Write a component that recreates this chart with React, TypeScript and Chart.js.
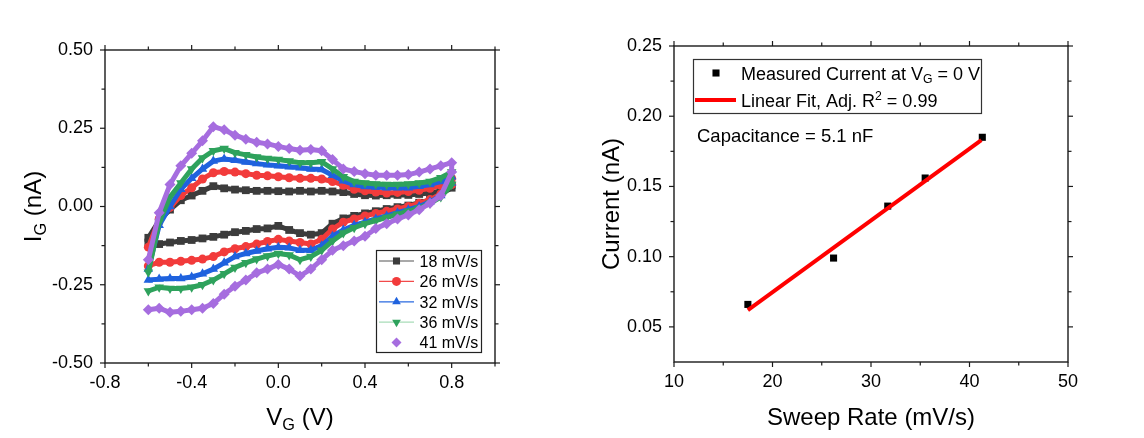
import React, { useEffect, useRef } from 'react';
import { Chart, registerables } from 'chart.js';

Chart.register(...registerables);

// ---------- Left panel data (cyclic voltammetry) ----------
const sweepVoltage = [
  -0.6, -0.55, -0.5, -0.45, -0.4, -0.35, -0.3, -0.25, -0.2, -0.15, -0.1, -0.05, 0.0, 0.05, 0.1,
  0.15, 0.2, 0.25, 0.3, 0.35, 0.4, 0.45, 0.5, 0.55, 0.6, 0.65, 0.7, 0.75, 0.8,
];
const reverseVoltage = sweepVoltage.slice().reverse();

// forward sweep (-0.6 -> 0.8)
const rate18Forward = [-0.1, -0.045, -0.01, 0.02, 0.035, 0.05, 0.065, 0.058, 0.054, 0.052, 0.05, 0.05, 0.049, 0.048, 0.05, 0.048, 0.05, 0.048, 0.046, 0.04, 0.036, 0.035, 0.036, 0.037, 0.037, 0.04, 0.043, 0.05, 0.068];
const rate26Forward = [-0.13, -0.04, -0.003, 0.035, 0.06, 0.088, 0.108, 0.112, 0.11, 0.105, 0.1, 0.098, 0.095, 0.092, 0.09, 0.09, 0.088, 0.08, 0.068, 0.055, 0.05, 0.046, 0.043, 0.045, 0.048, 0.052, 0.058, 0.068, 0.09];
const rate32Forward = [-0.2, -0.06, 0.0, 0.055, 0.09, 0.12, 0.145, 0.152, 0.148, 0.142, 0.137, 0.133, 0.13, 0.127, 0.124, 0.12, 0.118, 0.1, 0.082, 0.07, 0.064, 0.062, 0.06, 0.06, 0.06, 0.065, 0.07, 0.08, 0.095];
const rate36Forward = [-0.21, -0.05, 0.03, 0.075, 0.12, 0.155, 0.178, 0.185, 0.172, 0.165, 0.158, 0.153, 0.15, 0.145, 0.14, 0.14, 0.143, 0.12, 0.095, 0.08, 0.075, 0.072, 0.07, 0.07, 0.072, 0.075, 0.08, 0.092, 0.11];
const rate41Forward = [-0.17, -0.02, 0.07, 0.13, 0.17, 0.21, 0.255, 0.245, 0.228, 0.215, 0.205, 0.2, 0.192, 0.185, 0.18, 0.182, 0.178, 0.15, 0.12, 0.112, 0.105, 0.1, 0.1, 0.1, 0.102, 0.11, 0.12, 0.13, 0.14];

// reverse sweep (0.8 -> -0.6)
const rate18Reverse = [0.06, 0.04, 0.02, 0.012, 0.003, -0.002, -0.008, -0.015, -0.022, -0.03, -0.038, -0.055, -0.085, -0.09, -0.085, -0.075, -0.062, -0.07, -0.072, -0.078, -0.082, -0.09, -0.097, -0.102, -0.107, -0.11, -0.115, -0.12, -0.115];
const rate26Reverse = [0.07, 0.04, 0.022, 0.01, 0.0, -0.008, -0.015, -0.022, -0.03, -0.04, -0.05, -0.072, -0.105, -0.12, -0.115, -0.11, -0.105, -0.112, -0.12, -0.128, -0.135, -0.145, -0.16, -0.168, -0.172, -0.175, -0.178, -0.178, -0.19];
const rate32Reverse = [0.075, 0.035, 0.015, 0.0, -0.01, -0.02, -0.03, -0.04, -0.05, -0.06, -0.075, -0.095, -0.125, -0.14, -0.14, -0.132, -0.13, -0.135, -0.142, -0.15, -0.16, -0.18, -0.2, -0.215, -0.225, -0.23, -0.23, -0.232, -0.235];
const rate36Reverse = [0.07, 0.03, 0.01, -0.005, -0.015, -0.025, -0.035, -0.045, -0.055, -0.068, -0.085, -0.11, -0.14, -0.16, -0.17, -0.155, -0.15, -0.158, -0.168, -0.18, -0.195, -0.215, -0.235, -0.25, -0.258, -0.262, -0.262, -0.258, -0.27];
const rate41Reverse = [0.11, 0.035, 0.01, -0.01, -0.027, -0.04, -0.055, -0.07, -0.095, -0.11, -0.125, -0.14, -0.17, -0.2, -0.222, -0.2, -0.185, -0.2, -0.212, -0.235, -0.255, -0.28, -0.31, -0.325, -0.33, -0.335, -0.338, -0.325, -0.33];

const cvLabels = ['18 mV/s', '26 mV/s', '32 mV/s', '36 mV/s', '41 mV/s'];
const vgTicks = [-0.8, -0.4, 0.0, 0.4, 0.8];
const vgMinorTicks = [-0.6, -0.2, 0.2, 0.6, 1.0];
const igTicks = [-0.5, -0.25, 0.0, 0.25, 0.5];
const igMinorTicks = [-0.375, -0.125, 0.125, 0.375];

// ---------- Right panel data ----------
const sweepRates = [17.5, 26.2, 31.7, 35.5, 41.3];
const measuredCurrents = [0.066, 0.099, 0.136, 0.156, 0.185];
const fitRates = [17.5, 41.2];
const fitCurrents = [0.062, 0.183];
const rateTicks = [10, 20, 30, 40, 50];
const rateMinorTicks = [15, 25, 35, 45];
const currentTicks = [0.05, 0.1, 0.15, 0.2, 0.25];
const currentMinorTicks = [0.075, 0.125, 0.175, 0.225];

// ---------- Styles ----------
const FONT = "'Liberation Sans', Arial, sans-serif";
const cvColors = ['#3c3c3c', '#f23b3b', '#1f62de', '#2ea25c', '#a66ddf'];
const cvLegendLineColors = ['#555555', '#f24a4a', '#2a6ae0', '#a8dcb8', null];
const cvPointStyles = ['rect', 'circle', 'triangle', 'triangle', 'rectRot'];
const cvPointRotation = [0, 0, 0, 180, 0];
const cvPointRadius = [5.5, 4.5, 5.5, 5.5, 5.5];

type Part = { t: string; sub?: boolean; sup?: boolean };

function drawRich(ctx: CanvasRenderingContext2D, parts: Part[], x: number, y: number, size: number, align: 'left' | 'center') {
  const small = size * 0.68;
  const widths = parts.map((p) => {
    ctx.font = `${p.sub || p.sup ? small : size}px ${FONT}`;
    return ctx.measureText(p.t).width;
  });
  const total = widths.reduce((a, b) => a + b, 0);
  let cx = align === 'center' ? x - total / 2 : x;
  ctx.textAlign = 'left';
  ctx.textBaseline = 'alphabetic';
  parts.forEach((p, i) => {
    ctx.font = `${p.sub || p.sup ? small : size}px ${FONT}`;
    const dy = p.sub ? size * 0.22 : p.sup ? -size * 0.36 : 0;
    ctx.fillText(p.t, cx, y + dy);
    cx += widths[i];
  });
}

function drawMarker(ctx: CanvasRenderingContext2D, style: string, rot: number, x: number, y: number, r: number) {
  ctx.beginPath();
  if (style === 'rect') {
    const s = r * Math.SQRT1_2;
    ctx.rect(x - s, y - s, 2 * s, 2 * s);
  } else if (style === 'circle') {
    ctx.arc(x, y, r, 0, Math.PI * 2);
  } else if (style === 'triangle') {
    const base = (rot * Math.PI) / 180;
    for (let k = 0; k < 3; k++) {
      const a = base - Math.PI / 2 + (k * 2 * Math.PI) / 3;
      const px = x + Math.cos(a) * r;
      const py = y + Math.sin(a) * r;
      if (k === 0) ctx.moveTo(px, py);
      else ctx.lineTo(px, py);
    }
    ctx.closePath();
  } else if (style === 'rectRot') {
    ctx.moveTo(x, y - r);
    ctx.lineTo(x + r, y);
    ctx.lineTo(x, y + r);
    ctx.lineTo(x - r, y);
    ctx.closePath();
  }
  ctx.fill();
}

type FrameCfg = {
  id: string;
  xMajor: number[];
  xMinor: number[];
  yMajor: number[];
  yMinor: number[];
  xTitle: Part[];
  yTitle: Part[];
  yTitleX: number;
  extra?: (chart: any) => void;
};

function makeFramePlugin(cfg: FrameCfg) {
  return {
    id: 'frame_' + cfg.id,
    afterDraw(chart: any) {
      const { ctx, chartArea: a, scales } = chart;
      const xs = scales.x;
      const ys = scales.y;
      ctx.save();
      ctx.strokeStyle = '#1a1a1a';
      ctx.lineWidth = 1.4;
      ctx.strokeRect(a.left, a.top, a.right - a.left, a.bottom - a.top);
      const line = (x1: number, y1: number, x2: number, y2: number) => {
        ctx.beginPath();
        ctx.moveTo(x1, y1);
        ctx.lineTo(x2, y2);
        ctx.stroke();
      };
      ctx.lineWidth = 1.2;
      const xTick = (v: number, len: number) => {
        const p = xs.getPixelForValue(v);
        line(p, a.bottom, p, a.bottom + len);
        line(p, a.top, p, a.top - len);
      };
      const yTick = (v: number, len: number) => {
        const p = ys.getPixelForValue(v);
        line(a.left, p, a.left - len, p);
        line(a.right, p, a.right + len, p);
      };
      cfg.xMajor.forEach((v) => xTick(v, 5));
      cfg.xMinor.forEach((v) => xTick(v, 3.5));
      cfg.yMajor.forEach((v) => yTick(v, 5));
      cfg.yMinor.forEach((v) => yTick(v, 3.5));

      ctx.fillStyle = '#000';
      const cx = (a.left + a.right) / 2;
      drawRich(ctx, cfg.xTitle, cx, 425, 24, 'center');
      ctx.save();
      ctx.translate(cfg.yTitleX, (a.top + a.bottom) / 2);
      ctx.rotate(-Math.PI / 2);
      drawRich(ctx, cfg.yTitle, 0, 8.5, 24, 'center');
      ctx.restore();

      if (cfg.extra) cfg.extra(chart);
      ctx.restore();
    },
  };
}

function cvLegend(chart: any) {
  const ctx: CanvasRenderingContext2D = chart.ctx;
  ctx.save();
  ctx.fillStyle = '#fff';
  ctx.fillRect(376, 250, 105, 102);
  ctx.strokeStyle = '#222';
  ctx.lineWidth = 1.2;
  ctx.strokeRect(376.5, 250.5, 105, 102);
  cvLabels.forEach((label, i) => {
    const cy = 261 + i * 20.4;
    const lc = cvLegendLineColors[i];
    if (lc) {
      ctx.strokeStyle = lc;
      ctx.lineWidth = 1.2;
      ctx.beginPath();
      ctx.moveTo(379, cy);
      ctx.lineTo(414, cy);
      ctx.stroke();
    }
    ctx.fillStyle = cvColors[i];
    drawMarker(ctx, cvPointStyles[i], cvPointRotation[i], 396.5, cy, i === 1 ? 4.5 : 5);
    ctx.fillStyle = '#000';
    drawRich(ctx, [{ t: label }], 419.5, cy + 5.8, 16, 'left');
  });
  ctx.restore();
}

function rateLegend(chart: any) {
  const ctx: CanvasRenderingContext2D = chart.ctx;
  ctx.save();
  ctx.strokeStyle = '#333';
  ctx.lineWidth = 1.2;
  ctx.strokeRect(121.5, 59.5, 288, 54);
  ctx.fillStyle = '#000';
  drawMarker(ctx, 'rect', 0, 144, 73, 5);
  drawRich(ctx, [{ t: 'Measured Current at V' }, { t: 'G', sub: true }, { t: ' = 0 V' }], 169, 79.5, 18, 'left');
  ctx.strokeStyle = '#ff0000';
  ctx.lineWidth = 4;
  ctx.beginPath();
  ctx.moveTo(123, 100);
  ctx.lineTo(164, 100);
  ctx.stroke();
  drawRich(ctx, [{ t: 'Linear Fit, Adj. R' }, { t: '2', sup: true }, { t: ' = 0.99' }], 169, 106.5, 18, 'left');
  drawRich(ctx, [{ t: 'Capacitance = 5.1 nF' }], 125, 142, 18.5, 'left');
  ctx.restore();
}

const tickFont = { family: FONT, size: 18 };

function CvChart() {
  const ref = useRef<HTMLCanvasElement>(null);
  useEffect(() => {
    if (!ref.current) return;
    const forward = [rate18Forward, rate26Forward, rate32Forward, rate36Forward, rate41Forward];
    const reverse = [rate18Reverse, rate26Reverse, rate32Reverse, rate36Reverse, rate41Reverse];
    const chart = new Chart(ref.current, {
      type: 'scatter',
      data: {
        datasets: cvLabels.map((label, i) => ({
          label,
          data: [
            ...sweepVoltage.map((v, k) => ({ x: v, y: forward[i][k] })),
            ...reverseVoltage.map((v, k) => ({ x: v, y: reverse[i][k] })),
          ],
          showLine: true,
          borderColor: cvColors[i],
          backgroundColor: cvColors[i],
          borderWidth: 5,
          borderJoinStyle: 'round',
          pointStyle: cvPointStyles[i] as any,
          pointRotation: cvPointRotation[i],
          pointRadius: cvPointRadius[i],
          pointBorderWidth: 0,
          order: 5 - i,
        })),
      },
      options: {
        animation: false,
        responsive: false,
        events: [],
        layout: { padding: { left: 0, top: 50, right: 77, bottom: 0 } },
        plugins: { legend: { display: false }, tooltip: { enabled: false } },
        scales: {
          x: {
            type: 'linear',
            min: -0.8,
            max: 1.0,
            afterBuildTicks: (s: any) => {
              s.ticks = vgTicks.map((v) => ({ value: v }));
            },
            afterFit: (s: any) => {
              s.height = 75;
            },
            grid: { display: false, drawTicks: false },
            border: { display: false },
            ticks: {
              padding: 9,
              color: '#000',
              font: tickFont,
              maxRotation: 0,
              autoSkip: false,
              callback: (v: any) => Number(v).toFixed(1),
            },
          },
          y: {
            type: 'linear',
            min: -0.5,
            max: 0.5,
            afterBuildTicks: (s: any) => {
              s.ticks = igTicks.map((v) => ({ value: v }));
            },
            afterFit: (s: any) => {
              s.width = 105;
            },
            grid: { display: false, drawTicks: false },
            border: { display: false },
            ticks: {
              padding: 12,
              color: '#000',
              font: tickFont,
              autoSkip: false,
              callback: (v: any) => Number(v).toFixed(2),
            },
          },
        },
      },
      plugins: [
        makeFramePlugin({
          id: 'cv',
          xMajor: vgTicks,
          xMinor: vgMinorTicks,
          yMajor: igTicks,
          yMinor: igMinorTicks,
          xTitle: [{ t: 'V' }, { t: 'G', sub: true }, { t: ' (V)' }],
          yTitle: [{ t: 'I' }, { t: 'G', sub: true }, { t: ' (nA)' }],
          yTitleX: 32,
          extra: cvLegend,
        }),
      ],
    } as any);
    return () => chart.destroy();
  }, []);
  return <canvas ref={ref} width={572} height={438} />;
}

function RateChart() {
  const ref = useRef<HTMLCanvasElement>(null);
  useEffect(() => {
    if (!ref.current) return;
    const chart = new Chart(ref.current, {
      type: 'scatter',
      data: {
        datasets: [
          {
            label: 'Measured Current at VG = 0 V',
            data: sweepRates.map((x, i) => ({ x, y: measuredCurrents[i] })),
            pointStyle: 'rect',
            pointRadius: 5,
            pointBorderWidth: 0,
            backgroundColor: '#000',
            borderColor: '#000',
            showLine: false,
            order: 1,
          },
          {
            label: 'Linear Fit',
            data: fitRates.map((x, i) => ({ x, y: fitCurrents[i] })),
            showLine: true,
            borderColor: '#ff0000',
            backgroundColor: '#ff0000',
            borderWidth: 4,
            pointRadius: 0,
            order: 0,
          },
        ],
      },
      options: {
        animation: false,
        responsive: false,
        events: [],
        layout: { padding: { left: 0, top: 46, right: 76, bottom: 0 } },
        plugins: { legend: { display: false }, tooltip: { enabled: false } },
        scales: {
          x: {
            type: 'linear',
            min: 10,
            max: 50,
            afterBuildTicks: (s: any) => {
              s.ticks = rateTicks.map((v) => ({ value: v }));
            },
            afterFit: (s: any) => {
              s.height = 76;
            },
            grid: { display: false, drawTicks: false },
            border: { display: false },
            ticks: {
              padding: 9,
              color: '#000',
              font: tickFont,
              maxRotation: 0,
              autoSkip: false,
              callback: (v: any) => String(Math.round(Number(v))),
            },
          },
          y: {
            type: 'linear',
            min: 0.025,
            max: 0.25,
            afterBuildTicks: (s: any) => {
              s.ticks = currentTicks.map((v) => ({ value: v }));
            },
            afterFit: (s: any) => {
              s.width = 102;
            },
            grid: { display: false, drawTicks: false },
            border: { display: false },
            ticks: {
              padding: 12,
              color: '#000',
              font: tickFont,
              autoSkip: false,
              callback: (v: any) => Number(v).toFixed(2),
            },
          },
        },
      },
      plugins: [
        makeFramePlugin({
          id: 'rate',
          xMajor: rateTicks,
          xMinor: rateMinorTicks,
          yMajor: currentTicks,
          yMinor: currentMinorTicks,
          xTitle: [{ t: 'Sweep Rate (mV/s)' }],
          yTitle: [{ t: 'Current (nA)' }],
          yTitleX: 38,
          extra: rateLegend,
        }),
      ],
    } as any);
    return () => chart.destroy();
  }, []);
  return <canvas ref={ref} width={572} height={438} />;
}

export default function App() {
  return (
    <div style={{ position: 'fixed', left: 0, top: 0, width: 1144, height: 438, background: '#fff', overflow: 'hidden' }}>
      <div style={{ position: 'absolute', left: 0, top: 0, width: 572, height: 438 }}>
        <CvChart />
      </div>
      <div style={{ position: 'absolute', left: 572, top: 0, width: 572, height: 438 }}>
        <RateChart />
      </div>
    </div>
  );
}
